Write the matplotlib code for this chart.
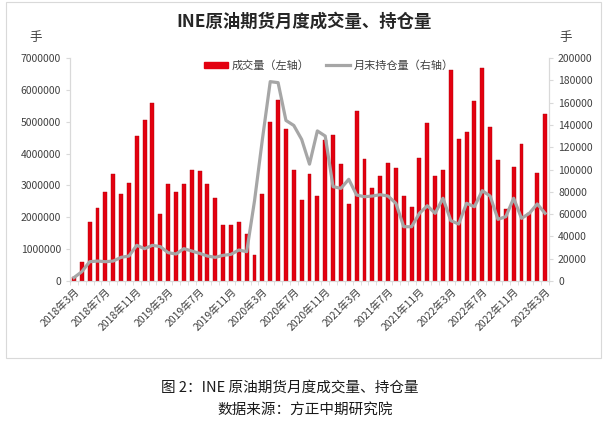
import matplotlib
matplotlib.use("Agg")
import matplotlib.pyplot as plt
import matplotlib.patches as mpatches
from matplotlib.lines import Line2D
import numpy as np

plt.rcParams['font.family'] = ['Noto Sans CJK SC', 'DejaVu Sans']

# monthly volume (手), 2018-03 .. 2023-03
volume = [0.12, 0.60, 1.85, 2.28, 2.78, 3.35, 2.73, 3.08, 4.54, 5.05,
          5.58, 2.10, 3.05, 2.80, 3.05, 3.47, 3.44, 3.05, 2.60, 1.75,
          1.77, 1.85, 1.46, 0.82, 2.73, 4.99, 5.68, 4.76, 3.47, 2.53,
          3.35, 2.67, 4.43, 4.58, 3.67, 2.43, 5.33, 3.84, 2.93, 3.30,
          3.69, 3.55, 2.66, 2.33, 3.87, 4.96, 3.30, 3.47, 6.62, 4.46,
          4.69, 5.65, 6.68, 4.83, 3.80, 2.27, 3.57, 4.29, 2.12, 3.39,
          5.24]
volume = [v * 1e6 for v in volume]

# month-end open interest (手)
open_interest = [3000, 8300, 17300, 17900, 17300, 17900, 21200, 22400, 32000, 29000,
                 32000, 30800, 25400, 24200, 29000, 26900, 24800, 22400, 21200, 23000,
                 23900, 27800, 26300, 72000, 127000, 178800, 177900, 144000, 139500, 127000,
                 104800, 134600, 130000, 84600, 83100, 91200, 77100, 75600, 76200, 77400,
                 76200, 69700, 48700, 48700, 60700, 67500, 60700, 74200, 54100, 51100,
                 69700, 66600, 81000, 76200, 55300, 57700, 74200, 56200, 60700, 69100,
                 60700]

tick_labels = ['2018年3月', '2018年7月', '2018年11月', '2019年3月', '2019年7月',
               '2019年11月', '2020年3月', '2020年7月', '2020年11月', '2021年3月',
               '2021年7月', '2021年11月', '2022年3月', '2022年7月', '2022年11月',
               '2023年3月']

bar_color = '#E3000F'
line_color = '#A6A6A6'
axis_color = '#D9D9D9'
text_color = '#404040'

fig = plt.figure(figsize=(6.06, 4.25), dpi=100)
fig.patches.append(mpatches.Rectangle((6 / 606, 1 - 358 / 425), 595 / 606, 356 / 425,
                                      transform=fig.transFigure, fill=False,
                                      edgecolor=axis_color, linewidth=0.8))

ax = fig.add_axes([70 / 606, 1 - 281 / 425, 479 / 606, 223 / 425])
x = np.arange(len(volume))
ax.bar(x, volume, width=0.5, color=bar_color, edgecolor='#B0000A', linewidth=0.3)
ax.set_xlim(-0.5, len(volume) - 0.5)
ax.set_ylim(0, 7000000)
ax.set_yticks(np.arange(0, 7000001, 1000000))
ax.yaxis.set_major_formatter(matplotlib.ticker.FuncFormatter(lambda v, p: '%d' % v))
ax.set_xticks(x[::4])
ax.set_xticklabels(tick_labels, rotation=45, ha='right', rotation_mode='anchor')
ax.set_xticks(np.arange(-0.5, len(volume), 1), minor=True)

ax2 = ax.twinx()
ax2.plot(x, open_interest, color=line_color, linewidth=2.3, solid_joinstyle='round')
ax2.set_ylim(0, 200000)
ax2.set_yticks(np.arange(0, 200001, 20000))

for a in (ax, ax2):
    for s in a.spines.values():
        s.set_color(axis_color)
    a.spines['top'].set_visible(False)
    a.tick_params(colors=axis_color, labelcolor=text_color, labelsize=7.5, length=3)
ax.tick_params(axis='x', which='minor', colors=axis_color, length=3)
ax.tick_params(axis='x', which='major', length=0, pad=4)

handles = [mpatches.Patch(color=bar_color, label='成交量（左轴）'),
           Line2D([0], [0], color=line_color, linewidth=2.3, label='月末持仓量（右轴）')]
ax.legend(handles=handles, loc='upper center', bbox_to_anchor=(0.54, 1.035), ncol=2,
          frameon=False, fontsize=8, handlelength=2.2, handleheight=0.5,
          columnspacing=1.5, handletextpad=0.3, labelcolor=text_color)

fig.text(304 / 606, 1 - 22 / 425, 'INE原油期货月度成交量、持仓量', ha='center', va='center',
         fontsize=12.5, fontweight='bold', color='#262626')
fig.text(36 / 606, 1 - 38 / 425, '手', ha='center', va='center', fontsize=9, color=text_color)
fig.text(566 / 606, 1 - 38 / 425, '手', ha='center', va='center', fontsize=9, color=text_color)

fig.text(290 / 606, 1 - 388 / 425, '图 2：INE 原油期货月度成交量、持仓量', ha='center', va='center',
         fontsize=10.5, color='#1a1a1a')
fig.text(305 / 606, 1 - 410 / 425, '数据来源：方正中期研究院', ha='center', va='center',
         fontsize=10.5, color='#1a1a1a')

fig.savefig('out.png', dpi=100)
